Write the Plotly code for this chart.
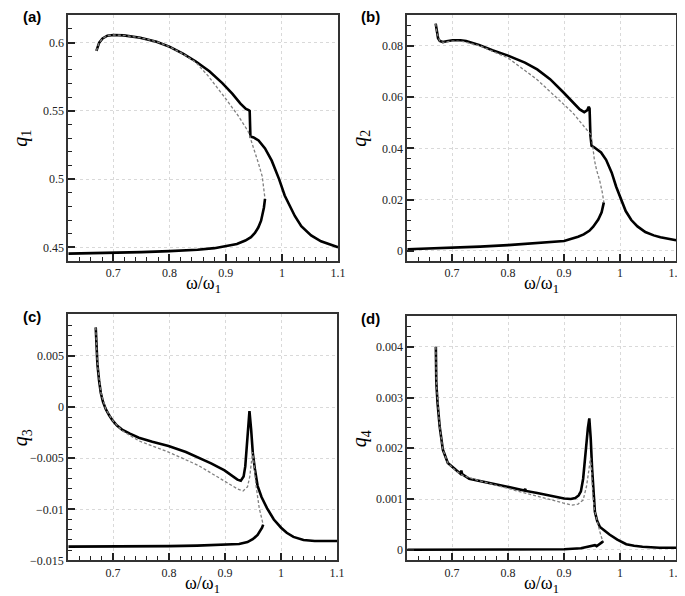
import plotly.graph_objects as go

# ---------------- data ----------------
# Panel (a)  q1
a_up_x = [0.670, 0.675, 0.681, 0.6895, 0.700, 0.7187, 0.748, 0.777, 0.8006, 0.824, 0.847, 0.871, 0.894,
          0.9117, 0.9263, 0.936, 0.941, 0.9427, 0.944, 0.9497, 0.9585, 0.970, 0.9819, 0.9906, 0.995,
          1.005, 1.011, 1.023, 1.0345, 1.052, 1.0696, 1.0871, 1.100]
a_up_y = [0.594, 0.600, 0.6031, 0.6051, 0.6056, 0.6053, 0.6036, 0.6007, 0.5969, 0.5920, 0.5862, 0.5790,
          0.5703, 0.5626, 0.5553, 0.5514, 0.5505, 0.5500, 0.5312, 0.5305, 0.5283, 0.5225, 0.5135, 0.5050,
          0.5000, 0.4880, 0.4830, 0.4730, 0.4655, 0.4587, 0.4544, 0.4520, 0.4500]
a_lo_x = [0.620, 0.650, 0.700, 0.750, 0.800, 0.850, 0.880, 0.900, 0.920, 0.935, 0.945, 0.952, 0.958,
          0.963, 0.966, 0.968, 0.970]
a_lo_y = [0.4454, 0.4456, 0.4461, 0.4465, 0.4472, 0.4482, 0.4494, 0.4507, 0.4525, 0.4550, 0.4575,
          0.4605, 0.4645, 0.4695, 0.4740, 0.4790, 0.4855]
a_da_x = [0.670, 0.675, 0.681, 0.6895, 0.700, 0.7187, 0.748, 0.777, 0.8006, 0.824, 0.847, 0.868, 0.900,
          0.923, 0.940, 0.949, 0.958, 0.965, 0.970]
a_da_y = [0.594, 0.600, 0.6031, 0.6051, 0.6056, 0.6053, 0.6036, 0.6007, 0.5969, 0.5918, 0.5855, 0.5760,
          0.5590, 0.5460, 0.5350, 0.5240, 0.5120, 0.5020, 0.4855]

# Panel (b)  q2
b_up_x = [0.6707, 0.6725, 0.675, 0.678, 0.6836, 0.690, 0.701, 0.715, 0.725, 0.748, 0.772, 0.800, 0.830,
          0.852, 0.875, 0.899, 0.915, 0.928, 0.936, 0.941, 0.944, 0.9455, 0.947, 0.949, 0.953, 0.960,
          0.966, 0.975, 0.985, 0.993, 1.001, 1.010, 1.020, 1.031, 1.045, 1.060, 1.072, 1.085, 1.100]
b_up_y = [0.0887, 0.0855, 0.0830, 0.0819, 0.0815, 0.0818, 0.0822, 0.0822, 0.0819, 0.0804, 0.0783, 0.0762,
          0.0735, 0.0708, 0.0670, 0.0618, 0.0583, 0.0552, 0.0541, 0.0548, 0.0562, 0.0555, 0.0450, 0.0410,
          0.0405, 0.0395, 0.0384, 0.0355, 0.0305, 0.0250, 0.0203, 0.0155, 0.0120, 0.0095, 0.0073, 0.0060,
          0.0053, 0.0047, 0.0041]
b_lo_x = [0.620, 0.650, 0.700, 0.750, 0.800, 0.850, 0.880, 0.900, 0.925, 0.935, 0.945, 0.952, 0.961,
          0.967, 0.971]
b_lo_y = [0.0006, 0.0008, 0.0011, 0.0016, 0.0022, 0.0030, 0.0035, 0.0038, 0.0055, 0.0064, 0.0078, 0.0094,
          0.0122, 0.0150, 0.0189]
b_da_x = [0.6707, 0.673, 0.678, 0.684, 0.700, 0.720, 0.750, 0.800, 0.852, 0.900, 0.915, 0.932, 0.948,
          0.951, 0.954, 0.958, 0.963, 0.968, 0.971]
b_da_y = [0.0887, 0.0850, 0.0819, 0.0814, 0.0819, 0.0817, 0.0800, 0.0753, 0.0668, 0.0572, 0.0540, 0.0495,
          0.0453, 0.0410, 0.0356, 0.0315, 0.0279, 0.0230, 0.0189]

# Panel (c)  q3
c_up_x = [0.669, 0.6705, 0.672, 0.675, 0.678, 0.682, 0.687, 0.693, 0.699, 0.707, 0.716, 0.730, 0.746,
          0.770, 0.799, 0.830, 0.852, 0.875, 0.899, 0.915, 0.922, 0.928, 0.933, 0.936, 0.938, 0.9405,
          0.9435, 0.9465, 0.9495, 0.953, 0.958, 0.965, 0.975, 0.987, 1.000, 1.010, 1.022, 1.040, 1.060,
          1.080, 1.100]
c_up_y = [0.0078, 0.0060, 0.0042, 0.0026, 0.0014, 0.0005, -0.0002, -0.0008, -0.0013, -0.0018, -0.0022,
          -0.0026, -0.0030, -0.0034, -0.0038, -0.0044, -0.0049, -0.0055, -0.0062, -0.0068, -0.0071,
          -0.0072, -0.0068, -0.0058, -0.0045, -0.0025, -0.0004, -0.0022, -0.0045, -0.0060, -0.0077,
          -0.0088, -0.0099, -0.0110, -0.0118, -0.0123, -0.0127, -0.0130, -0.0131, -0.0131, -0.0131]
c_lo_x = [0.620, 0.700, 0.800, 0.850, 0.900, 0.925, 0.940, 0.950, 0.958, 0.963, 0.966, 0.968]
c_lo_y = [-0.01365, -0.01365, -0.0136, -0.01355, -0.01345, -0.0134, -0.0132, -0.0129, -0.0125, -0.0121,
          -0.0118, -0.0115]
c_da_x = [0.669, 0.672, 0.678, 0.687, 0.699, 0.716, 0.746, 0.799, 0.852, 0.899, 0.922, 0.932, 0.940,
          0.944, 0.947, 0.949, 0.951, 0.955, 0.961, 0.965, 0.968]
c_da_y = [0.0078, 0.0042, 0.0014, -0.0002, -0.0013, -0.0023, -0.0033, -0.0044, -0.0057, -0.0072, -0.0080,
          -0.0082, -0.0078, -0.0068, -0.0052, -0.0044, -0.0052, -0.0076, -0.0099, -0.0110, -0.0115]

# Panel (d)  q4
d_up_x = [0.671, 0.6718, 0.674, 0.6778, 0.6836, 0.6924, 0.7071, 0.715, 0.7165, 0.718, 0.7306, 0.760,
          0.790, 0.829, 0.8305, 0.832, 0.852, 0.878, 0.900, 0.912, 0.920, 0.926, 0.930, 0.934, 0.938,
          0.9425, 0.945, 0.9475, 0.950, 0.952, 0.955, 0.959, 0.964, 0.972, 0.981, 0.995, 1.011, 1.025,
          1.040, 1.070, 1.100]
d_up_y = [0.00400, 0.00330, 0.00290, 0.00243, 0.00197, 0.00171, 0.00157, 0.00150, 0.00156, 0.00149,
          0.00140, 0.00133, 0.00126, 0.00117, 0.00120, 0.00116, 0.00112, 0.00106, 0.00101, 0.00100,
          0.00102, 0.00107, 0.00115, 0.00140, 0.00190, 0.00240, 0.00259, 0.00220, 0.00160, 0.00115,
          0.00075, 0.00057, 0.00045, 0.00038, 0.00030, 0.00020, 0.00011, 0.00008, 0.00006, 0.00004,
          0.00004]
d_lo_x = [0.620, 0.700, 0.800, 0.900, 0.930, 0.946, 0.955, 0.958, 0.961, 0.964, 0.968, 0.970]
d_lo_y = [0.0, 0.0, 0.000005, 0.00001, 0.00003, 0.00006, 0.00009, 0.00007, 0.00009, 0.00011, 0.00015,
          0.00017]
d_da_x = [0.671, 0.6718, 0.6778, 0.6836, 0.6924, 0.7071, 0.720, 0.746, 0.799, 0.852, 0.899, 0.915, 0.925,
          0.934, 0.940, 0.944, 0.947, 0.949, 0.951, 0.954, 0.958, 0.964, 0.968, 0.970]
d_da_y = [0.00400, 0.00330, 0.00243, 0.00197, 0.00171, 0.00155, 0.00146, 0.00137, 0.00121, 0.00105,
          0.00092, 0.00088, 0.00090, 0.00098, 0.00125, 0.00155, 0.00181, 0.00160, 0.00113, 0.00080,
          0.00060, 0.00035, 0.00020, 0.00017]

# tick start / step (major) and minor step for each axis
x_tick0, x_dtick, x_minor = 0.7, 0.1, 0.02
a_tick0, a_dtick, a_minor = 0.45, 0.05, 0.01
b_tick0, b_dtick, b_minor = 0.0, 0.02, 0.004
c_tick0, c_dtick, c_minor = 0.0, 0.005, 0.001
d_tick0, d_dtick, d_minor = 0.0, 0.001, 0.0002

panel_labels = ["(a)", "(b)", "(c)", "(d)"]
y_titles = ["<i>q</i><sub>1</sub>", "<i>q</i><sub>2</sub>", "<i>q</i><sub>3</sub>", "<i>q</i><sub>4</sub>"]
x_title = "ω/ω<sub>1</sub>"

# ---------------- figure ----------------
W, H = 685, 596
fig = go.Figure()

panels = [
    dict(up=(a_up_x, a_up_y), lo=(a_lo_x, a_lo_y), da=(a_da_x, a_da_y),
         xd=(61, 334), yd=(7, 256), yr=[0.44, 0.6203], t0=a_tick0, dt=a_dtick, mdt=a_minor),
    dict(up=(b_up_x, b_up_y), lo=(b_lo_x, b_lo_y), da=(b_da_x, b_da_y),
         xd=(404, 676), yd=(7, 256), yr=[-0.004, 0.0921], t0=b_tick0, dt=b_dtick, mdt=b_minor),
    dict(up=(c_up_x, c_up_y), lo=(c_lo_x, c_lo_y), da=(c_da_x, c_da_y),
         xd=(61, 333), yd=(310, 559), yr=[-0.015, 0.00907], t0=c_tick0, dt=c_dtick, mdt=c_minor),
    dict(up=(d_up_x, d_up_y), lo=(d_lo_x, d_lo_y), da=(d_da_x, d_da_y),
         xd=(404, 676), yd=(312, 559), yr=[-0.00021, 0.0046], t0=d_tick0, dt=d_dtick, mdt=d_minor),
]

AX = "#222222"
SERIF = "Liberation Serif"
TICKFONT = dict(family=SERIF, size=12, color="#222")

for i, p in enumerate(panels):
    n = "" if i == 0 else str(i + 1)
    xa, ya = "x" + n, "y" + n
    solid = dict(color="black", width=2.6)
    dash = dict(color="#808080", width=1.3, dash="3px,2px")
    fig.add_trace(go.Scatter(x=p["up"][0], y=p["up"][1], mode="lines", line=solid, xaxis=xa, yaxis=ya,
                             showlegend=False))
    fig.add_trace(go.Scatter(x=p["lo"][0], y=p["lo"][1], mode="lines", line=solid, xaxis=xa, yaxis=ya,
                             showlegend=False))
    fig.add_trace(go.Scatter(x=p["da"][0], y=p["da"][1], mode="lines", line=dash, xaxis=xa, yaxis=ya,
                             showlegend=False))

    common = dict(showline=True, linecolor="#333333", linewidth=2, mirror=True, ticks="inside", ticklen=7,
                  tickwidth=1.6, tickcolor=AX, showgrid=True, gridcolor="#d9d9d9", griddash="dot",
                  gridwidth=1, zeroline=False, tickfont=TICKFONT, tickmode="linear")
    xdom = [p["xd"][0] / W, p["xd"][1] / W]
    ydom = [1 - p["yd"][1] / H, 1 - p["yd"][0] / H]
    fig.layout["xaxis" + n] = dict(common, domain=xdom, range=[0.62, 1.1], anchor=ya,
                                   tick0=x_tick0, dtick=x_dtick,
                                   minor=dict(ticks="inside", ticklen=4, tickwidth=1.3, tickcolor=AX,
                                              dtick=x_minor, tick0=x_tick0, showgrid=False))
    fig.layout["yaxis" + n] = dict(common, domain=ydom, range=p["yr"], anchor=xa,
                                   tick0=p["t0"], dtick=p["dt"],
                                   minor=dict(ticks="inside", ticklen=4, tickwidth=1.3, tickcolor=AX,
                                              dtick=p["mdt"], tick0=p["t0"], showgrid=False))

    # panel label
    fig.add_annotation(text="<b>%s</b>" % panel_labels[i], xref="paper", yref="paper",
                       x=(p["xd"][0] - 37) / W, y=1 - (p["yd"][0] + 2) / H, xanchor="center", yanchor="middle",
                       showarrow=False, font=dict(family="Liberation Sans", size=15, color="black"))
    # x title
    fig.add_annotation(text=x_title, xref="paper", yref="paper",
                       x=(p["xd"][0] + p["xd"][1]) / 2 / W, y=1 - (p["yd"][1] + 24) / H,
                       xanchor="center", yanchor="middle", showarrow=False,
                       font=dict(family=SERIF, size=18, color="black"))
    # y title
    fig.add_annotation(text=y_titles[i], xref="paper", yref="paper",
                       x=(p["xd"][0] - 47) / W, y=1 - ((p["yd"][0] + p["yd"][1]) / 2) / H,
                       xanchor="center", yanchor="middle", textangle=-90, showarrow=False,
                       font=dict(family=SERIF, size=20, color="black"))

fig.update_layout(width=W, height=H, margin=dict(l=0, r=0, t=0, b=0), paper_bgcolor="white",
                  plot_bgcolor="white")
fig.write_html("out.html")
